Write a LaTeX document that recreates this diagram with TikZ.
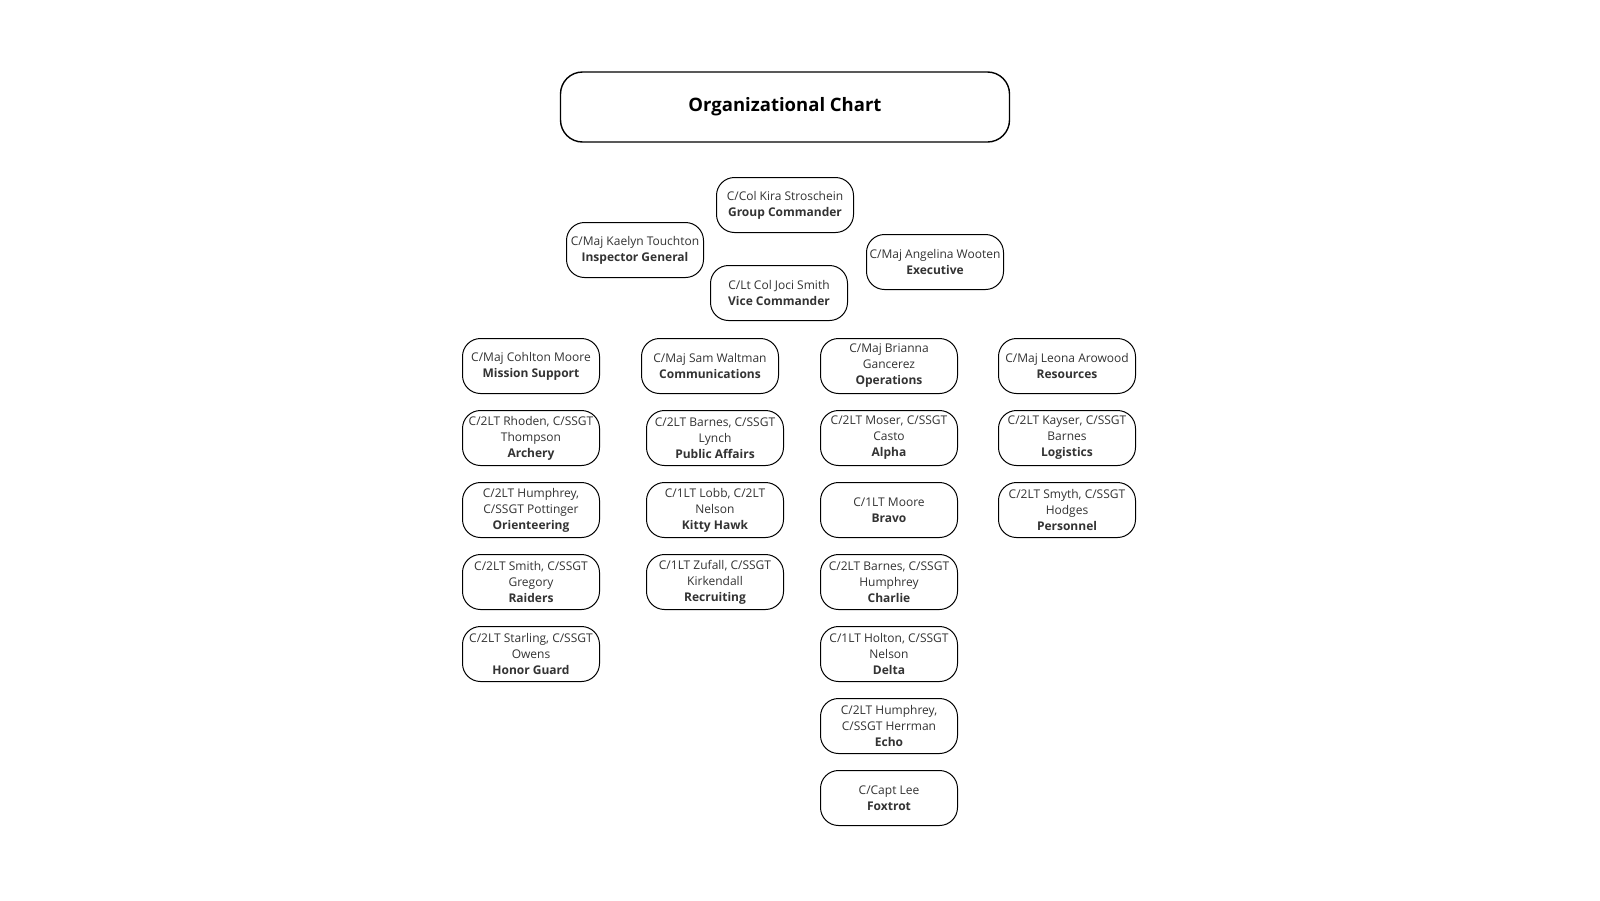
\documentclass[tikz,border=0pt]{standalone}
\usepackage{fontspec}
\setmainfont{Open Sans}
\usepackage{tikz}
\usetikzlibrary{positioning}

\begin{document}
\begin{tikzpicture}[
  x=1pt, y=-1pt,
  font=\fontsize{12}{16}\selectfont,
  box/.style={draw, line width=1pt, rounded corners=18pt, align=center, inner sep=2pt, minimum width=137pt, minimum height=55pt, text=black!80},
  head/.style={draw, line width=1.4pt, rounded corners=22pt, minimum width=449pt, minimum height=70pt, font=\fontsize{18.5}{22}\selectfont\bfseries}
]
  \useasboundingbox[fill=white] (0,0) rectangle (1600,900);
  \node[head] (title) at (785,107) {Organizational Chart};
  % command staff
  \node[box] (cmdr) at (785,205) {C/Col Kira Stroschein\\\textbf{Group Commander}};
  \node[box] (ig) at (635,250) {C/Maj Kaelyn Touchton\\\textbf{Inspector General}};
  \node[box] (vice) at (779,293) {C/Lt Col Joci Smith\\\textbf{Vice Commander}};
  \node[box] (exec) at (935,262) {C/Maj Angelina Wooten\\\textbf{Executive}};
  % mission support
  \node[box] (ms) at (531,366) {C/Maj Cohlton Moore\\\textbf{Mission Support}};
  \node[box, below=16pt of ms] (arch) {C/2LT Rhoden, C/SSGT\\Thompson\\\textbf{Archery}};
  \node[box, below=16pt of arch] (orient) {C/2LT Humphrey,\\C/SSGT Pottinger\\\textbf{Orienteering}};
  \node[box, below=16pt of orient] (raid) {C/2LT Smith, C/SSGT\\Gregory\\\textbf{Raiders}};
  \node[box, below=16pt of raid] (honor) {C/2LT Starling, C/SSGT\\Owens\\\textbf{Honor Guard}};
  % communications
  \node[box] (comm) at (710,366) {C/Maj Sam Waltman\\\textbf{Communications}};
  \node[box] (pa) at (715,438) {C/2LT Barnes, C/SSGT\\Lynch\\\textbf{Public Affairs}};
  \node[box, below=16pt of pa] (kitty) {C/1LT Lobb, C/2LT\\Nelson\\\textbf{Kitty Hawk}};
  \node[box, below=16pt of kitty] (recr) {C/1LT Zufall, C/SSGT\\Kirkendall\\\textbf{Recruiting}};
  % operations
  \node[box] (ops) at (889,366) {C/Maj Brianna\\Gancerez\\\textbf{Operations}};
  \node[box, below=16pt of ops] (alpha) {C/2LT Moser, C/SSGT\\Casto\\\textbf{Alpha}};
  \node[box, below=16pt of alpha] (bravo) {C/1LT Moore\\\textbf{Bravo}};
  \node[box, below=16pt of bravo] (charlie) {C/2LT Barnes, C/SSGT\\Humphrey\\\textbf{Charlie}};
  \node[box, below=16pt of charlie] (delta) {C/1LT Holton, C/SSGT\\Nelson\\\textbf{Delta}};
  \node[box, below=16pt of delta] (echo) {C/2LT Humphrey,\\C/SSGT Herrman\\\textbf{Echo}};
  \node[box, below=16pt of echo] (foxtrot) {C/Capt Lee\\\textbf{Foxtrot}};
  % resources
  \node[box] (res) at (1067,366) {C/Maj Leona Arowood\\\textbf{Resources}};
  \node[box, below=16pt of res] (logi) {C/2LT Kayser, C/SSGT\\Barnes\\\textbf{Logistics}};
  \node[box, below=16pt of logi] (pers) {C/2LT Smyth, C/SSGT\\Hodges\\\textbf{Personnel}};
\end{tikzpicture}
\end{document}
